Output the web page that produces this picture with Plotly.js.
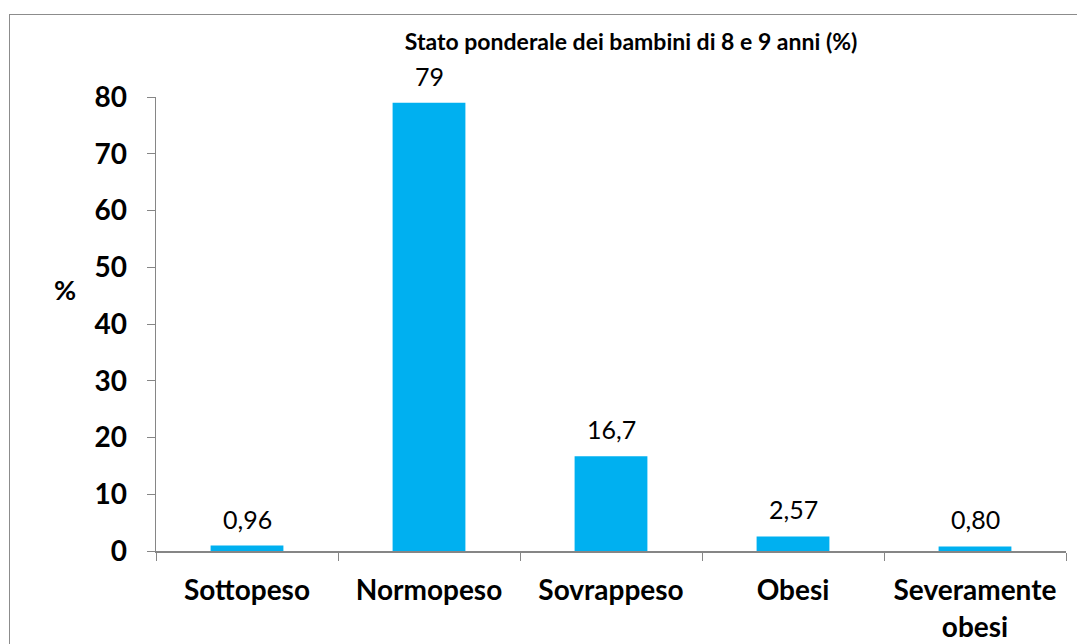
<!DOCTYPE html>
<html>
<head>
<meta charset="utf-8">
<script src="https://cdn.plot.ly/plotly-3.0.1.min.js"></script>
<style>
  body { margin: 0; background: #fff; }
  #frame { position: absolute; left: 9px; top: 14px; width: 1200px; height: 800px; border: 1px solid #8c8c8c; }
  #chart { position: absolute; left: 0; top: 0; width: 1077px; height: 644px; }
</style>
</head>
<body>
<div id="frame"></div>
<div id="chart"></div>
<script>
// Stato ponderale dei bambini di 8 e 9 anni
const categories = ['Sottopeso', 'Normopeso', 'Sovrappeso', 'Obesi', 'Severamente<br>obesi'];
const values = [0.96, 79, 16.7, 2.57, 0.80];
const valueLabels = ['0,96', '79', '16,7', '2,57', '0,80'];
const yTicks = [0, 10, 20, 30, 40, 50, 60, 70, 80];

const font = 'Lato, "Open Sans", sans-serif';

window.onload = function () {
	// value labels sit above each bar
	const labels = categories.map((c, i) => ({
		x: c,
		y: values[i],
		xref: 'x', yref: 'y',
		text: valueLabels[i],
		showarrow: false,
		yanchor: 'bottom',
		yshift: 10,
		font: { family: font, size: 25, color: '#000' }
	}));

	labels.push({
		text: '<b>%</b>',
		xref: 'paper', yref: 'paper',
		x: -0.1, xanchor: 'center',
		y: 0.575,
		showarrow: false,
		font: { family: font, size: 27, color: '#000' }
	});

	Plotly.newPlot('chart', [{
		x: categories,
		y: values,
		type: 'bar',
		marker: { color: '#00B0F0' },
		hoverinfo: 'none'
	}], {
		width: 1077,
		height: 644,
		margin: { l: 156, r: 11, t: 97, b: 93 },
		paper_bgcolor: 'rgba(0,0,0,0)',
		plot_bgcolor: 'rgba(0,0,0,0)',
		bargap: 0.6,
		showlegend: false,
		title: {
			text: '<b>Stato ponderale dei bambini di 8 e 9 anni (%)</b>',
			font: { family: font, size: 23, color: '#000' },
			x: 0.586, xanchor: 'center',
			y: 0.935, yanchor: 'middle'
		},
		xaxis: {
			type: 'category',
			showline: true,
			linecolor: '#868686',
			linewidth: 1.5,
			ticks: 'outside',
			tickson: 'boundaries',
			ticklen: 8,
			tickcolor: '#868686',
			ticklabelstandoff: 14,
			tickfont: { family: font, size: 28, color: '#000', weight: 'bold' },
			showgrid: false
		},
		yaxis: {
			range: [0, 80],
			tickvals: yTicks,
			showline: true,
			linecolor: '#868686',
			linewidth: 1.5,
			ticks: 'outside',
			ticklen: 8,
			tickcolor: '#868686',
			ticklabelstandoff: 14,
			tickfont: { family: font, size: 28, color: '#000', weight: 'bold' },
			showgrid: false,
			zeroline: false
		},
		annotations: labels
	}, { displayModeBar: false, staticPlot: true });
};
</script>
</body>
</html>
